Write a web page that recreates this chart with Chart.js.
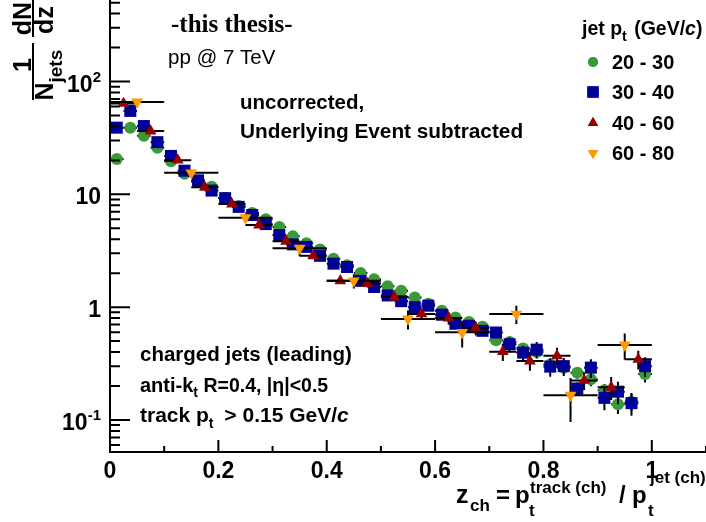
<!DOCTYPE html>
<html>
<head>
<meta charset="utf-8">
<script src="https://cdn.jsdelivr.net/npm/chart.js@4/dist/chart.umd.min.js"></script>
<style>
  html, body { margin: 0; padding: 0; background: #fff; }
  canvas { display: block; }
</style>
</head>
<body>
<canvas id="c" width="706" height="522"></canvas>
<script>
// ---- bin centres (z = pT track / pT jet) ----
const zBins025 = [0.0125,0.0375,0.0625,0.0875,0.1125,0.1375,0.1625,0.1875,0.2125,0.2375,
                  0.2625,0.2875,0.3125,0.3375,0.3625,0.3875,0.4125,0.4375,0.4625,0.4875,
                  0.5125,0.5375,0.5625,0.5875,0.6125,0.6375,0.6625,0.6875,0.7125,0.7375,
                  0.7625,0.7875,0.8125,0.8375,0.8625,0.8875,0.9125,0.9375,0.9625,0.9875];
const zBins050 = [0.025,0.075,0.125,0.175,0.225,0.275,0.325,0.375,0.425,0.475,
                  0.525,0.575,0.625,0.675,0.725,0.775,0.825,0.875,0.925,0.975];
const zBins100 = [0.05,0.15,0.25,0.35,0.45,0.55,0.65,0.75,0.85,0.95];
const halfWidth025 = 0.0125, halfWidth050 = 0.025, halfWidth100 = 0.05;

// ---- jet pT classes ----
const jetPtClasses = ['20 - 30', '30 - 40', '40 - 60', '60 - 80'];

// ---- 1/Njets dN/dz per class, with statistical errors ----
const fz2030 = [20.6, 39.0, 33.0, 25.9, 19.6, 15.2, 12.9, 11.7, 9.3, 7.9,
                6.84, 6.01, 5.13, 4.26, 3.69, 3.24, 2.69, 2.35, 2.01, 1.77,
                1.53, 1.40, 1.22, 1.07, 0.93, 0.81, 0.74, 0.67, 0.51, 0.49,
                0.43, 0.40, 0.31, 0.29, 0.262, 0.229, 0.183, 0.138, 0.145, 0.255];
const err2030 = [0.5, 0.8, 0.7, 0.5, 0.4, 0.3, 0.26, 0.23, 0.19, 0.16,
                 0.14, 0.13, 0.11, 0.1, 0.09, 0.08, 0.07, 0.065, 0.06, 0.055,
                 0.05, 0.05, 0.045, 0.045, 0.04, 0.04, 0.04, 0.04, 0.035, 0.035,
                 0.035, 0.035, 0.03, 0.03, 0.03, 0.03, 0.025, 0.025, 0.025, 0.04];

const fz3040 = [39.0, 54.9, 40.3, 29.0, 21.9, 16.2, 13.3, 10.8, 9.25, 7.74,
                6.56, 5.45, 4.35, 3.60, 3.42, 2.85, 2.43, 2.27, 1.71, 1.51,
                1.27, 1.13, 1.00, 1.03, 0.857, 0.712, 0.684, 0.617, 0.596, 0.469,
                0.395, 0.42, 0.297, 0.30, 0.19, 0.291, 0.157, 0.178, 0.141, 0.30];
const err3040 = [0.8, 1.1, 0.8, 0.6, 0.45, 0.35, 0.3, 0.25, 0.22, 0.2,
                 0.18, 0.16, 0.14, 0.12, 0.12, 0.11, 0.1, 0.1, 0.08, 0.08,
                 0.08, 0.07, 0.07, 0.07, 0.07, 0.06, 0.06, 0.06, 0.06, 0.07,
                 0.06, 0.07, 0.055, 0.055, 0.025, 0.055, 0.035, 0.04, 0.032, 0.06];

const fz4060 = [63.9, 36.4, 20.1, 11.55, 8.19, 5.34, 3.84, 2.85, 1.71, 1.62,
                1.23, 0.87, 0.80, 0.652, 0.403, 0.333, 0.371, 0.224, 0.195, 0.345];
const err4060 = [1.5, 0.9, 0.5, 0.3, 0.25, 0.18, 0.15, 0.13, 0.1, 0.1,
                 0.09, 0.1, 0.1, 0.09, 0.07, 0.06, 0.065, 0.04, 0.045, 0.065];

const fz6080 = [66.0, 15.5, 6.2, 3.33, 1.71, 0.785, 0.598, 0.869, 0.166, 0.463];
const err6080 = [3.0, 1.0, 0.5, 0.5, 0.25, 0.15, 0.16, 0.16, 0.07, 0.12];

// ---- axis ticks ----
const xMajorTicks = [0, 0.2, 0.4, 0.6, 0.8, 1.0];
const xMajorLabels = ['0', '0.2', '0.4', '0.6', '0.8', '1'];
const xMinorTicks = [0.1, 0.3, 0.5, 0.7, 0.9, 1.1];
const yDecades = [0.1, 1, 10, 100];
const yDecadeLabels = [['10', '-1'], ['1', ''], ['10', ''], ['10', '2']];
const yMinorTicks = [0.06, 0.07, 0.08, 0.09,
                     0.2, 0.3, 0.4, 0.5, 0.6, 0.7, 0.8, 0.9,
                     2, 3, 4, 5, 6, 7, 8, 9,
                     20, 30, 40, 50, 60, 70, 80, 90,
                     200, 300, 400, 500];

const colours = ['#3a9a3a', '#000099', '#990000', '#ff9900'];

function points(xs, ys, es) {
  return xs.map((x, i) => ({ x: x, y: ys[i], err: es[i] }));
}

const SANS = '"Liberation Sans", Arial, Helvetica, sans-serif';
const SERIF = '"Liberation Serif", "Times New Roman", serif';
function f(size, bold, italic, family) {
  return (italic ? 'italic ' : '') + (bold ? 'bold ' : '') + size + 'px ' + (family || SANS);
}

// draw a sequence of text runs (sub/superscripts via dy)
function runs(ctx, x, y, parts) {
  let cx = x;
  for (const p of parts) {
    ctx.font = f(p.s, p.b !== false, p.i, p.fam);
    ctx.fillText(p.t, cx, y + (p.dy || 0));
    cx += ctx.measureText(p.t).width + (p.k || 0);
  }
  return cx;
}

// horizontal + vertical error bars, drawn just under each data set's markers
const errorBars = {
  id: 'errorBars',
  beforeDatasetDraw(chart, args) {
    const ds = chart.data.datasets[args.index];
    const xs = chart.scales.x, ys = chart.scales.y, a = chart.chartArea;
    const ctx = chart.ctx;
    ctx.save();
    ctx.beginPath();
    ctx.rect(a.left, a.top, a.right - a.left, a.bottom - a.top);
    ctx.clip();
    ctx.strokeStyle = '#000';
    ctx.lineWidth = 2;
    ctx.lineCap = 'butt';
    ds.data.forEach(p => {
      const px = xs.getPixelForValue(p.x);
      const py = ys.getPixelForValue(p.y);
      const xl = xs.getPixelForValue(p.x - ds.halfWidth);
      const xr = xs.getPixelForValue(p.x + ds.halfWidth);
      const yt = ys.getPixelForValue(p.y + p.err);
      const yb = ys.getPixelForValue(Math.max(p.y - p.err, 1e-4));
      ctx.beginPath();
      ctx.moveTo(xl, py); ctx.lineTo(xr, py);
      ctx.moveTo(px, yt); ctx.lineTo(px, yb);
      ctx.stroke();
    });
    ctx.restore();
  }
};

// frame, ticks, labels, titles and annotations
const decorations = {
  id: 'decorations',
  afterDraw(chart) {
    const ctx = chart.ctx, xs = chart.scales.x, ys = chart.scales.y, a = chart.chartArea;
    ctx.save();
    ctx.strokeStyle = '#000';
    ctx.fillStyle = '#000';
    ctx.lineWidth = 2;

    // axis lines
    ctx.beginPath();
    ctx.moveTo(a.left, a.top); ctx.lineTo(a.left, a.bottom + 1);
    ctx.moveTo(a.left - 1, a.bottom); ctx.lineTo(a.right, a.bottom);
    ctx.stroke();

    // x ticks
    ctx.beginPath();
    xMajorTicks.forEach(v => { const x = xs.getPixelForValue(v); ctx.moveTo(x, a.bottom); ctx.lineTo(x, a.bottom - 12); });
    xMinorTicks.forEach(v => { const x = xs.getPixelForValue(v); ctx.moveTo(x, a.bottom); ctx.lineTo(x, a.bottom - 6); });
    // y ticks
    yDecades.forEach(v => { const y = ys.getPixelForValue(v); ctx.moveTo(a.left, y); ctx.lineTo(a.left + 20, y); });
    yMinorTicks.forEach(v => { const y = ys.getPixelForValue(v); ctx.moveTo(a.left, y); ctx.lineTo(a.left + 10, y); });
    ctx.stroke();

    // x tick labels
    ctx.textBaseline = 'alphabetic';
    ctx.textAlign = 'center';
    ctx.font = f(23, true);
    xMajorTicks.forEach((v, i) => ctx.fillText(xMajorLabels[i], xs.getPixelForValue(v), 478));

    // y tick labels (base + exponent, right aligned)
    ctx.textAlign = 'left';
    yDecades.forEach((v, i) => {
      const [base, exp] = yDecadeLabels[i];
      const y = ys.getPixelForValue(v) + 10;
      ctx.font = f(15, true);
      const we = exp ? ctx.measureText(exp).width : 0;
      ctx.font = f(23, true);
      const wb = ctx.measureText(base).width;
      const right = 101;
      ctx.fillText(base, right - we - wb, y);
      if (exp) { ctx.font = f(15, true); ctx.fillText(exp, right - we, y - 10); }
    });

    // x axis title: z_ch = p_t^{track (ch)} / p_t^{jet (ch)}
    ctx.font = f(25, true); ctx.fillText('z', 456, 503);
    ctx.font = f(17, true); ctx.fillText('ch', 470, 511);
    ctx.font = f(24, true); ctx.fillText('=', 496, 503);
    ctx.font = f(24, true); ctx.fillText('p', 515, 503);
    ctx.font = f(17, true); ctx.fillText('t', 529, 516);
    ctx.font = f(17, true); ctx.fillText('track (ch)', 530, 493);
    ctx.font = f(24, true); ctx.fillText('/', 619, 503);
    ctx.font = f(24, true); ctx.fillText('p', 632, 503);
    ctx.font = f(17, true); ctx.fillText('t', 648, 516);
    ctx.font = f(17, true); ctx.fillText('jet (ch)', 650, 483);

    // y axis title: 1/N_jets dN/dz (rotated)
    const rot = (text, X, Y, size, align) => {
      ctx.save(); ctx.translate(X, Y); ctx.rotate(-Math.PI / 2);
      ctx.font = f(size, true); ctx.textAlign = align || 'center';
      ctx.fillText(text, 0, 0); ctx.restore();
    };
    rot('1', 31, 65, 25);
    rot('N', 53, 91.5, 25);
    rot('jets', 62, 82.5, 19, 'left');
    rot('dN', 31, 18.5, 25);
    rot('dz', 53, 20, 25);
    ctx.beginPath();
    ctx.moveTo(33, 43); ctx.lineTo(33, 100);
    ctx.moveTo(33, 0); ctx.lineTo(33, 37);
    ctx.stroke();

    // annotations
    ctx.textAlign = 'left';
    ctx.font = f(25, true, false, SERIF); ctx.fillText('-this thesis-', 171, 32);
    ctx.font = f(20.5, false); ctx.fillText('pp @ 7 TeV', 168, 64);
    ctx.font = f(20.5, true);
    ctx.fillText('uncorrected,', 240, 109);
    ctx.font = f(20.8, true);
    ctx.fillText('Underlying Event subtracted', 240, 138);
    ctx.font = f(20.5, true);
    ctx.fillText('charged jets (leading)', 140, 361);
    runs(ctx, 140, 392, [{ t: 'anti-k', s: 20 }, { t: 't', s: 14, dy: 5, k: 0 }, { t: ' R=0.4, |\u03B7|<0.5', s: 19.5 }]);
    runs(ctx, 140, 422, [{ t: 'track p', s: 21 }, { t: 't', s: 14, dy: 6, k: 5 }, { t: ' > 0.15 GeV/', s: 21 }, { t: 'c', s: 21, i: true }]);

    // legend
    runs(ctx, 582, 35, [{ t: 'jet p', s: 19.5 }, { t: 't', s: 14, dy: 6, k: 2 }, { t: ' (GeV/', s: 19.5 }, { t: 'c', s: 19.5, i: true }, { t: ')', s: 19.5 }]);
    const legY = [62, 92, 123, 153];
    const styles = ['circle', 'rect', 'triangle', 'triangle'];
    const rots = [0, 0, 0, 180];
    const radii = [5, 8, 6, 6];
    jetPtClasses.forEach((lab, i) => {
      ctx.fillStyle = colours[i];
      Chart.helpers.drawPoint(ctx, { pointStyle: styles[i], rotation: rots[i], radius: radii[i], borderWidth: 0 }, 593, legY[i]);
      ctx.fill();
      ctx.fillStyle = '#000';
      ctx.font = f(20, true);
      ctx.fillText(lab, 612, legY[i] + 7);
    });
    ctx.restore();
  }
};

const datasets = [
  { label: jetPtClasses[0], data: points(zBins025, fz2030, err2030), halfWidth: halfWidth025,
    pointStyle: 'circle', pointRadius: 6, backgroundColor: colours[0], borderColor: colours[0], borderWidth: 0, order: 4 },
  { label: jetPtClasses[1], data: points(zBins025, fz3040, err3040), halfWidth: halfWidth025,
    pointStyle: 'rect', pointRadius: 8.5, backgroundColor: colours[1], borderColor: colours[1], borderWidth: 0, order: 3 },
  { label: jetPtClasses[2], data: points(zBins050, fz4060, err4060), halfWidth: halfWidth050,
    pointStyle: 'triangle', pointRadius: 6.8, backgroundColor: colours[2], borderColor: colours[2], borderWidth: 0, order: 2 },
  { label: jetPtClasses[3], data: points(zBins100, fz6080, err6080), halfWidth: halfWidth100,
    pointStyle: 'triangle', rotation: 180, pointRadius: 6.8, backgroundColor: colours[3], borderColor: colours[3], borderWidth: 0, order: 1 }
];

new Chart(document.getElementById('c'), {
  type: 'scatter',
  data: { datasets: datasets },
  options: {
    responsive: false,
    animation: false,
    devicePixelRatio: 1,
    events: [],
    layout: { padding: 0, autoPadding: false },
    plugins: { legend: { display: false }, tooltip: { enabled: false } },
    scales: {
      x: { type: 'linear', min: 0, max: 1.1,
           grid: { display: false }, border: { display: false }, ticks: { display: false },
           afterFit(s) { s.height = 70; } },
      y: { type: 'logarithmic', min: 0.052, max: 528,
           grid: { display: false }, border: { display: false }, ticks: { display: false },
           afterFit(s) { s.width = 110; } }
    }
  },
  plugins: [errorBars, decorations]
});
</script>
</body>
</html>
